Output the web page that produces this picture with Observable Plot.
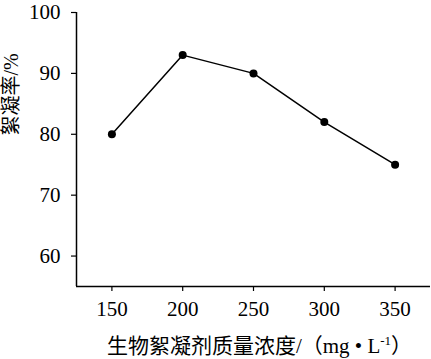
<!DOCTYPE html>
<html>
<head>
<meta charset="utf-8">
<script src="https://cdn.jsdelivr.net/npm/d3@7"></script>
<script src="https://cdn.jsdelivr.net/npm/@observablehq/plot@0.6"></script>
<style>
  html, body { margin: 0; padding: 0; background: #fff; }
</style>
</head>
<body>
<div id="chart"></div>
<script>
const dosage = [150, 200, 250, 300, 350];
const flocRate = [80, 93, 90, 82, 75];
const xTicks = [150, 200, 250, 300, 350];
const yTicks = [60, 70, 80, 90, 100];
const xLabel = "生物絮凝剂质量浓度/（mg • L-1）";
const yLabel = "絮凝率/%";

const data = dosage.map((d, i) => ({x: d, y: flocRate[i]}));
const font = "'Liberation Serif', 'Times New Roman', 'Noto Sans CJK SC', serif";

const chart = Plot.plot({
  width: 431,
  height: 359,
  marginTop: 12,
  marginRight: 1,
  marginBottom: 73,
  marginLeft: 76,
  style: {fontFamily: font, fontSize: "21px", color: "#000", background: "#fff", overflow: "visible"},
  x: {domain: [125, 375]},
  y: {domain: [55, 100]},
  marks: [
    Plot.ruleX([125], {stroke: "#000", strokeWidth: 1.5}),
    Plot.ruleY([55], {stroke: "#000", strokeWidth: 1.5}),
    Plot.axisY({ticks: yTicks, tickSize: 5, tickPadding: 11, label: null, fontSize: 21, stroke: "#000", strokeWidth: 1.2}),
    Plot.axisX({ticks: xTicks, tickSize: 5, tickPadding: 10, label: null, fontSize: 21, stroke: "#000", strokeWidth: 1.2}),
    Plot.line(data, {x: "x", y: "y", stroke: "#000", strokeWidth: 1.5}),
    Plot.dot(data, {x: "x", y: "y", r: 4, fill: "#000", stroke: "none"}),
    Plot.text([xLabel], {frameAnchor: "bottom", dx: 6, dy: 66, lineAnchor: "bottom", fontSize: 21, fill: "#000", className: "xlab"}),
    Plot.text([yLabel], {frameAnchor: "left", dx: -65, dy: -14, rotate: -90, fontSize: 20, fill: "#000"})
  ]
});
document.getElementById("chart").appendChild(chart);

// render the "-1" as a superscript
chart.querySelectorAll(".xlab text").forEach(t => {
  const s = t.textContent;
  const i = s.indexOf("-1");
  if (i < 0) return;
  t.textContent = "";
  const a = document.createElementNS("http://www.w3.org/2000/svg", "tspan");
  a.textContent = s.slice(0, i);
  const b = document.createElementNS("http://www.w3.org/2000/svg", "tspan");
  b.textContent = "-1";
  b.setAttribute("font-size", "13");
  b.setAttribute("dy", "-8");
  const c = document.createElementNS("http://www.w3.org/2000/svg", "tspan");
  c.textContent = s.slice(i + 2);
  c.setAttribute("dy", "8");
  t.append(a, b, c);
});
</script>
</body>
</html>
